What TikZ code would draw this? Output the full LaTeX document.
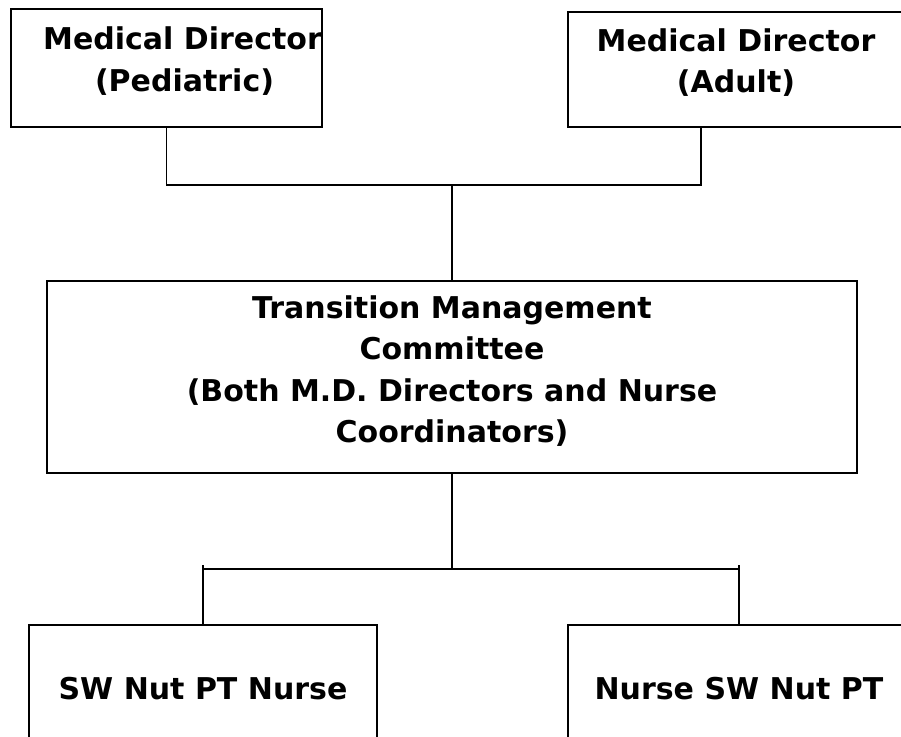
\documentclass[tikz,border=0pt]{standalone}
\usepackage{fontspec}
\setmainfont{DejaVu Sans}
\usepackage{tikz}
\usetikzlibrary{positioning,calc}

\begin{document}
\begin{tikzpicture}[
  x=1pt, y=-1pt,
  font=\fontsize{30}{41.5}\selectfont\bfseries,
  box/.style={draw, line width=1.8pt, align=center, inner sep=0pt},
  link/.style={line width=1.8pt}
]
  \useasboundingbox (0,0) rectangle (901,736);
  \node[box, minimum width=311pt, minimum height=118pt, text depth=18pt] (pedi) at (166.5,68) {\hspace*{32pt}Medical Director\\\hspace*{36pt}(Pediatric)};
  \node[box, minimum width=336pt, minimum height=115pt, text depth=18pt] (adult) at (736,69.5) {Medical Director\\(Adult)};
  \node[box, minimum width=810pt, minimum height=192pt, text depth=16pt] (tmc) at (452,377) {Transition Management\\Committee\\(Both M.D. Directors and Nurse\\Coordinators)};
  \node[box, minimum width=348pt, minimum height=128pt] (swleft) at (203,689) {SW Nut PT Nurse};
  \node[box, minimum width=342pt, minimum height=128pt] (nurseright) at (739,689) {Nurse SW Nut PT};
  \coordinate (join) at (tmc.north |- 0,185);
  \coordinate (split) at (tmc.south |- 0,569);
  \coordinate (adultfoot) at ([xshift=134pt]adult.south west);
  \coordinate (lefttick) at (swleft.north |- 0,565);
  \coordinate (righttick) at (nurseright.north |- 0,565);
  \draw[link] (pedi.south) |- (adultfoot |- join) -- (adultfoot);
  \draw[link] (join) -- (tmc.north);
  \draw[link] (tmc.south) -- (split);
  \draw[link] (lefttick |- split) -- (righttick |- split);
  \draw[link] (lefttick) -- (swleft.north);
  \draw[link] (righttick) -- (nurseright.north);
\end{tikzpicture}
\end{document}
